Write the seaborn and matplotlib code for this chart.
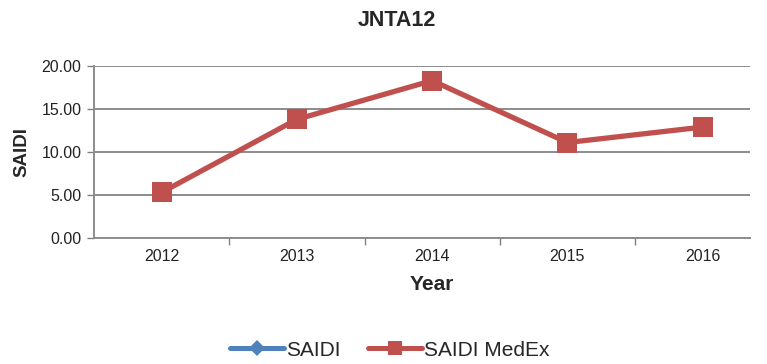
import matplotlib
matplotlib.use("Agg")
import matplotlib.pyplot as plt
import seaborn as sns
import pandas as pd
import numpy as np
from matplotlib.lines import Line2D

years = ["2012", "2013", "2014", "2015", "2016"]
saidi = [5.3, 13.8, 18.3, 11.1, 12.9]
saidi_medex = [5.3, 13.8, 18.3, 11.1, 12.9]
series_names = ["SAIDI", "SAIDI MedEx"]
colors = ["#4F81BD", "#C0504D"]
markers = ["D", "s"]

sns.set_theme(style="white")
plt.rcParams['font.family'] = ['Liberation Sans', 'DejaVu Sans']

fig = plt.figure(figsize=(7.67, 3.64), dpi=100)
ax = fig.add_axes([94/767, 1-238/364, (750-94)/767, (238-66)/364])

pos = list(range(len(years)))
sns.lineplot(x=pos, y=saidi, color=colors[0], marker=markers[0], linewidth=2.6,
             markersize=9, markeredgewidth=0, ax=ax, legend=False)
sns.lineplot(x=pos, y=saidi_medex, color=colors[1], marker=markers[1], linewidth=3.8,
             markersize=14, markeredgewidth=0, ax=ax, legend=False)

ax.set_ylim(0, 20)
ax.set_xlim(-0.5, 4.35)
ax.set_yticks([0, 5, 10, 15, 20])
ax.set_yticklabels([f"{v:.2f}" for v in [0, 5, 10, 15, 20]], fontsize=11.5, color="#222222")
ax.set_xticks(pos)
ax.set_xticklabels(years, fontsize=11.5, color="#222222")
ax.set_xticks(np.arange(-0.5, 4.5, 1.0)[1:], minor=True)
ax.tick_params(axis="x", which="major", length=0, pad=8)
ax.tick_params(axis="x", which="minor", length=5, width=1, color="#808080", direction="out", bottom=True)
ax.tick_params(axis="y", which="major", length=5, width=1, color="#808080", direction="out", left=True, pad=4)
ax.yaxis.grid(True, color="#8c8c8c", linewidth=1.4)
ax.set_axisbelow(True)
for s in ["top", "right"]:
    ax.spines[s].set_visible(False)
for s in ["left", "bottom"]:
    ax.spines[s].set_color("#8c8c8c")
    ax.spines[s].set_linewidth(1.4)

ax.set_xlabel("Year", fontsize=15, fontweight="bold")
ax.xaxis.set_label_coords((431.5-94)/(750-94), -47/172)
ax.xaxis.label.set_va("center")
ax.set_ylabel("SAIDI", fontsize=13.5, fontweight="bold", labelpad=8)
fig.text(397/767, 1-20/364, "JNTA12", ha="center", va="center", fontsize=15.5, fontweight="bold")

handles = [Line2D([0], [0], color=c, marker=m, lw=3.6, markersize=8 if m == "D" else 10, markeredgewidth=0)
           for c, m in zip(colors, markers)]
fig.legend(handles, series_names, loc="center", bbox_to_anchor=(390/767, 1-350/364), ncol=2,
           frameon=False, fontsize=15, handlelength=2.6, handletextpad=0.1, columnspacing=1.3)

fig.savefig("out.png", dpi=100)
